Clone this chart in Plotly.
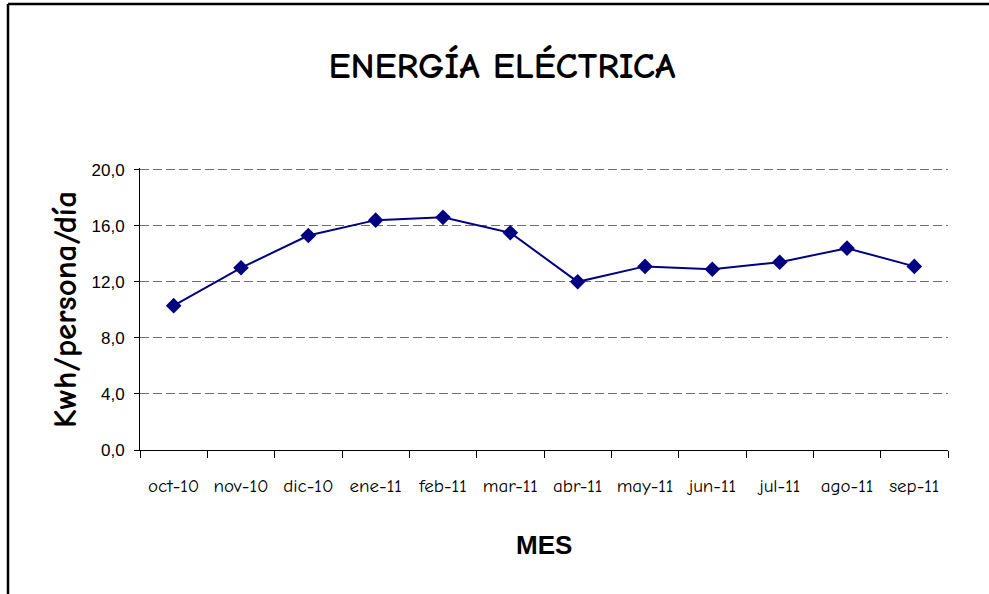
import plotly.graph_objects as go

months = ["oct-10", "nov-10", "dic-10", "ene-11", "feb-11", "mar-11",
          "abr-11", "may-11", "jun-11", "jul-11", "ago-11", "sep-11"]
kwh = [10.3, 13.0, 15.3, 16.4, 16.6, 15.5, 12.0, 13.1, 12.9, 13.4, 14.4, 13.1]
y_ticks = [0, 4, 8, 12, 16, 20]

title_text = "ENERGÍA ELÉCTRICA"
y_title = "Kwh/persona/día"
x_title = "MES"

comic = "Comic Sans MS, Comic Neue, Noto Sans, DejaVu Sans"
arial = "Arial, Liberation Sans, sans-serif"

fig = go.Figure()
fig.add_trace(go.Scatter(
    x=months, y=kwh, mode="lines+markers",
    line=dict(color="#000080", width=2),
    marker=dict(symbol="diamond", size=12, color="#000080"),
    showlegend=False,
))

W, H = 989, 594
L, R, T, B = 140, 41, 168, 144
pw, ph = W - L - R, H - T - B

def px_x(p):
    return (p - L) / pw

def px_y(p):
    return (H - B - p) / ph

fig.update_layout(
    width=W, height=H,
    margin=dict(l=L, r=R, t=T, b=B),
    paper_bgcolor="white", plot_bgcolor="white",
    separators=",.",
    title=dict(text="<b>" + title_text + "</b>", x=502 / W, xref="container", xanchor="center",
               y=1 - 65 / H, yref="container", yanchor="middle",
               font=dict(family=comic, size=37, color="black", weight="bold")),
    xaxis=dict(
        type="category", tickson="boundaries", ticks="outside", ticklen=7,
        tickcolor="black", showline=True, linecolor="black", linewidth=1,
        showgrid=False, tickfont=dict(family=comic, size=19, color="black"),
        ticklabelstandoff=18, range=[-0.5, 11.5],
    ),
    yaxis=dict(
        range=[0, 20.12], tickvals=y_ticks, tickformat=".1f",
        ticks="outside", ticklen=5, tickcolor="black",
        showline=True, linecolor="black", linewidth=1,
        showgrid=True, gridcolor="#6e6e6e", gridwidth=1.2, griddash="9px,4px",
        zeroline=False, tickfont=dict(family=arial, size=17, color="black"),
        ticklabelstandoff=6,
    ),
    annotations=[
        dict(text="<b>" + y_title + "</b>", xref="paper", yref="paper", x=px_x(65), y=px_y(310),
             xanchor="center", yanchor="middle", textangle=-90, showarrow=False,
             font=dict(family=comic, size=33, color="black", weight="bold")),
        dict(text="<b>" + x_title + "</b>", xref="paper", yref="paper", x=px_x(544), y=px_y(545),
             xanchor="center", yanchor="middle", showarrow=False,
             font=dict(family=arial, size=26, color="black", weight="bold")),
    ],
    shapes=[
        dict(type="line", xref="paper", yref="paper",
             x0=px_x(8), x1=px_x(W + 2), y0=px_y(4), y1=px_y(4),
             line=dict(color="black", width=2.5)),
        dict(type="line", xref="paper", yref="paper",
             x0=px_x(8), x1=px_x(8), y0=px_y(4), y1=px_y(H + 2),
             line=dict(color="black", width=2.5)),
    ],
)

fig.write_html(
    "out.html",
    config={"displayModeBar": False},
    post_script="document.body.style.margin='0';document.body.style.overflow='hidden';",
)
